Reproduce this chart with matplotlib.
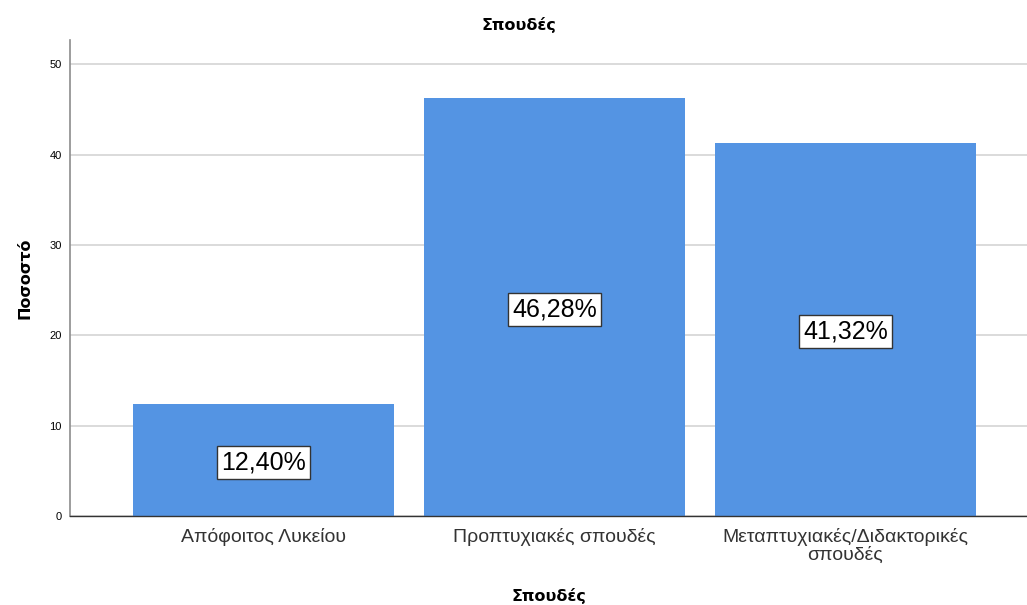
import matplotlib
matplotlib.use("Agg")
import matplotlib.pyplot as plt

categories = ["Απόφοιτος Λυκείου", "Προπτυχιακές σπουδές", "Μεταπτυχιακές/Διδακτορικές\nσπουδές"]
values = [12.40, 46.28, 41.32]
labels = ["12,40%", "46,28%", "41,32%"]
yticks = [0, 10, 20, 30, 40, 50]

plt.rcParams['font.family'] = ['Liberation Sans', 'DejaVu Sans']
bold_font = ['DejaVu Sans']

fig = plt.figure(figsize=(10.27, 6.05), dpi=100)
ax = fig.add_axes([70/1027, 1-516/605, 1-70/1027, 476/605])

x = list(range(len(categories)))
ax.bar(x, values, width=0.897, color="#5494e3", zorder=2)
for xi, v, lab in zip(x, values, labels):
    ax.text(xi, v/2, lab, ha="center", va="center_baseline", fontsize=18, color="black", zorder=3,
            bbox=dict(boxstyle="square,pad=0.18", facecolor="white", edgecolor="#333333", linewidth=1))

ax.set_xlim(-0.665, 2.624)
ax.set_ylim(0, 52.7)
ax.set_yticks(yticks)
ax.set_yticklabels([str(t) for t in yticks], fontsize=8)
ax.set_xticks(x)
ax.set_xticklabels(categories, fontsize=14, color="#333333", linespacing=1.05)
ax.tick_params(axis="both", length=0, pad=6)
ax.tick_params(axis="x", pad=9)
ax.yaxis.grid(True, color="#d4d4d4", linewidth=1.2, zorder=0)
ax.set_axisbelow(True)
for s in ["top", "right"]:
    ax.spines[s].set_visible(False)
ax.spines["left"].set_color("#8c8c8c")
ax.spines["left"].set_linewidth(1.2)
ax.spines["bottom"].set_color("#333333")
ax.spines["bottom"].set_linewidth(1.0)

ax.set_ylabel("Ποσοστό", fontsize=11.5, fontweight="bold", labelpad=12, family=bold_font)
ax.set_xlabel("Σπουδές", fontsize=11.5, fontweight="bold", labelpad=17, family=bold_font)
fig.text(519/1027, 1-25/605, "Σπουδές", ha="center", va="center", fontsize=11.5,
         fontweight="bold", family=bold_font)

fig.savefig("out.png", dpi=100)
